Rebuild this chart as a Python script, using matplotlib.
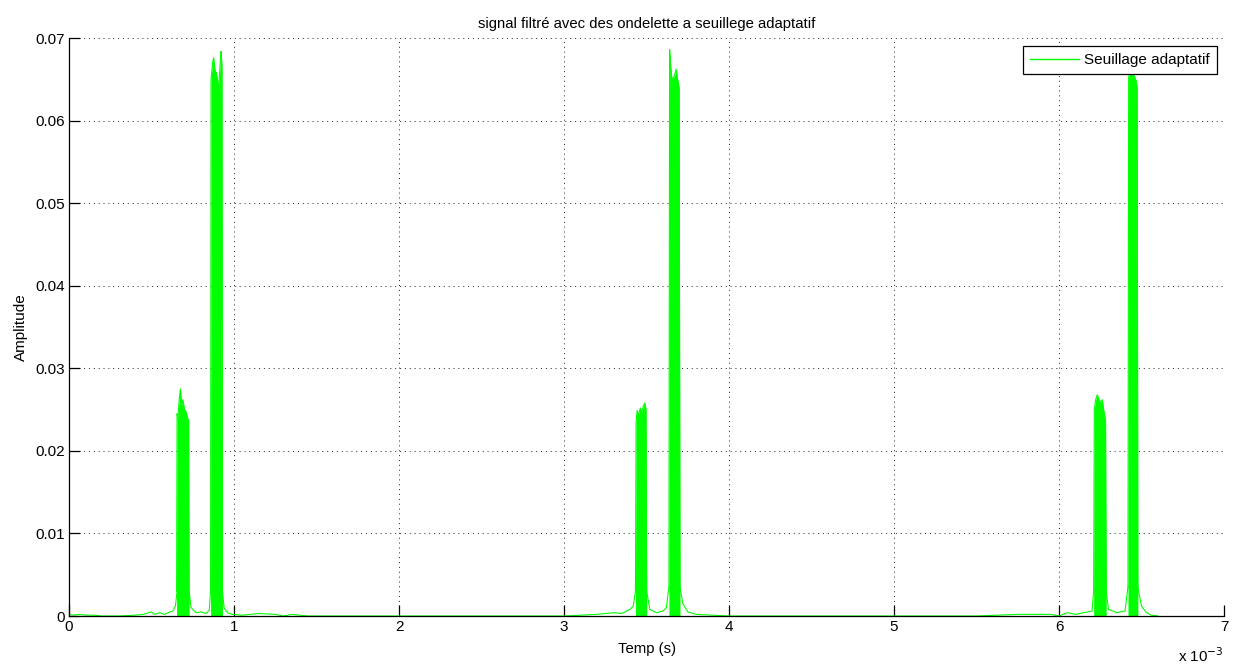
import matplotlib
matplotlib.use("Agg")
import matplotlib.pyplot as plt
import numpy as np

# ---- data (time in ms, amplitude) ----
# low-level residual trace along the whole record
trace_t = [0.00, 0.03, 0.06, 0.10, 0.15, 0.20, 0.30, 0.40, 0.45, 0.50, 0.52, 0.55,
           0.58, 0.60, 0.63, 0.645, 0.655, 0.69, 0.728, 0.74, 0.77, 0.80, 0.83, 0.85,
           0.858, 0.895, 0.930, 0.94, 0.96, 0.99, 1.05, 1.15, 1.25, 1.30, 1.35, 1.45,
           1.60, 2.00, 2.50, 3.00, 3.10, 3.20, 3.30, 3.35, 3.40, 3.42, 3.433, 3.47,
           3.501, 3.52, 3.56, 3.60, 3.62, 3.636, 3.67, 3.703, 3.72, 3.75, 3.80, 3.90,
           4.00, 4.50, 5.00, 5.50, 5.75, 5.80, 5.95, 6.00, 6.05, 6.10, 6.15, 6.20,
           6.21, 6.25, 6.286, 6.30, 6.35, 6.40, 6.418, 6.45, 6.478, 6.50, 6.53, 6.56,
           6.60]
trace_a = [0.0002, 0.0001, 0.0002, 0.0001, 0.0001, 0.0000, 0.0000, 0.0001, 0.0002, 0.0005, 0.0002, 0.0004,
           0.0002, 0.0004, 0.0006, 0.0012, 0.0030, 0.0030, 0.0030, 0.0010, 0.0004, 0.0005, 0.0003, 0.0007,
           0.0030, 0.0030, 0.0030, 0.0010, 0.0004, 0.0002, 0.0001, 0.0003, 0.0002, 0.0000, 0.0002, 0.0000,
           0.0000, 0.0000, 0.0000, 0.0000, 0.0001, 0.0002, 0.0004, 0.0003, 0.0008, 0.0012, 0.0030, 0.0030,
           0.0030, 0.0008, 0.0004, 0.0006, 0.0010, 0.0035, 0.0035, 0.0035, 0.0015, 0.0005, 0.0002, 0.0001,
           0.0000, 0.0000, 0.0000, 0.0000, 0.0002, 0.0002, 0.0002, 0.0000, 0.0004, 0.0002, 0.0004, 0.0006,
           0.0030, 0.0030, 0.0030, 0.0008, 0.0004, 0.0006, 0.0035, 0.0035, 0.0035, 0.0012, 0.0004, 0.0001,
           0.0000]

# envelopes of the oscillating bursts
burst1_t = [0.652, 0.655, 0.660, 0.668, 0.675, 0.683, 0.690, 0.700, 0.710, 0.718, 0.725, 0.728]
burst1_a = [0.003, 0.0245, 0.0240, 0.0262, 0.0275, 0.0255, 0.0262, 0.0250, 0.0247, 0.0240, 0.0237, 0.003]

burst2_t = [0.858, 0.861, 0.866, 0.872, 0.877, 0.884, 0.892, 0.900, 0.906, 0.912, 0.918, 0.922, 0.927, 0.930]
burst2_a = [0.003, 0.0650, 0.0661, 0.0672, 0.0676, 0.0662, 0.0658, 0.0650, 0.0634, 0.0655, 0.0675, 0.0684, 0.0665, 0.003]

burst3_t = [3.433, 3.437, 3.443, 3.452, 3.462, 3.472, 3.482, 3.490, 3.497, 3.501]
burst3_a = [0.003, 0.0235, 0.0249, 0.0243, 0.0252, 0.0247, 0.0255, 0.0258, 0.0250, 0.003]

burst4_t = [3.636, 3.640, 3.646, 3.652, 3.660, 3.670, 3.680, 3.690, 3.698, 3.703]
burst4_a = [0.0035, 0.0686, 0.0668, 0.0653, 0.0650, 0.0655, 0.0662, 0.0648, 0.0640, 0.0035]

burst5_t = [6.210, 6.214, 6.222, 6.232, 6.242, 6.252, 6.262, 6.272, 6.282, 6.286]
burst5_a = [0.003, 0.0250, 0.0262, 0.0268, 0.0262, 0.0259, 0.0262, 0.0248, 0.0237, 0.003]

burst6_t = [6.418, 6.422, 6.430, 6.440, 6.450, 6.460, 6.468, 6.474, 6.478]
burst6_a = [0.0035, 0.0652, 0.0660, 0.0658, 0.0656, 0.0652, 0.0648, 0.0640, 0.0035]

x_ticks = [0, 1, 2, 3, 4, 5, 6, 7]
y_ticks = [0, 0.01, 0.02, 0.03, 0.04, 0.05, 0.06, 0.07]
y_tick_labels = ["0", "0.01", "0.02", "0.03", "0.04", "0.05", "0.06", "0.07"]

GREEN = "#00ff00"
plt.rcParams["font.family"] = ["Liberation Sans", "DejaVu Sans"]

fig = plt.figure(figsize=(12.35, 6.66), dpi=100)
ax = fig.add_axes([69 / 1235, 50 / 666, (1224 - 69) / 1235, (616 - 38) / 666])

scale = 1e-3
line, = ax.plot(np.array(trace_t) * scale, trace_a, color=GREEN, lw=0.8,
                label="Seuillage adaptatif")
for bt, ba in [(burst1_t, burst1_a), (burst2_t, burst2_a), (burst3_t, burst3_a),
               (burst4_t, burst4_a), (burst5_t, burst5_a), (burst6_t, burst6_a)]:
    bx = np.array(bt) * scale
    ax.fill_between(bx, 0, ba, color=GREEN, lw=0)
    ax.plot(bx, ba, color=GREEN, lw=0.8)

ax.set_xlim(0, 7 * scale)
ax.set_ylim(0, 0.07)
ax.set_xticks([v * scale for v in x_ticks])
ax.set_xticklabels([str(v) for v in x_ticks])
ax.set_yticks(y_ticks)
ax.set_yticklabels(y_tick_labels)

ax.grid(True, color="#222222", linestyle=(0, (1, 4)), linewidth=0.7)
ax.set_axisbelow(True)
for s in ["top", "right"]:
    ax.spines[s].set_visible(False)
for s in ["left", "bottom"]:
    ax.spines[s].set_linewidth(0.9)
ax.tick_params(direction="in", length=8, width=0.9, labelsize=11, pad=3)

ax.set_xlabel("Temp (s)", fontsize=10.7, labelpad=6)
ax.set_ylabel("Amplitude", fontsize=11, labelpad=5)
ax.set_title("signal filtré avec des ondelette a seuillege adaptatif", fontsize=10.7, pad=7)
ax.text(1.0, -0.053, r"x 10$^{-3}$", transform=ax.transAxes, ha="right", va="top", fontsize=11)

leg = ax.legend(handles=[line], loc="upper right", fancybox=False, framealpha=1,
                edgecolor="black", fontsize=11, handlelength=3.2, handletextpad=0.35,
                borderpad=0.45, bbox_to_anchor=(0.9939, 0.986), borderaxespad=0)
leg.get_frame().set_linewidth(0.9)
leg.get_lines()[0].set_linewidth(1.0)

fig.savefig("out.png", dpi=100, facecolor="white")
